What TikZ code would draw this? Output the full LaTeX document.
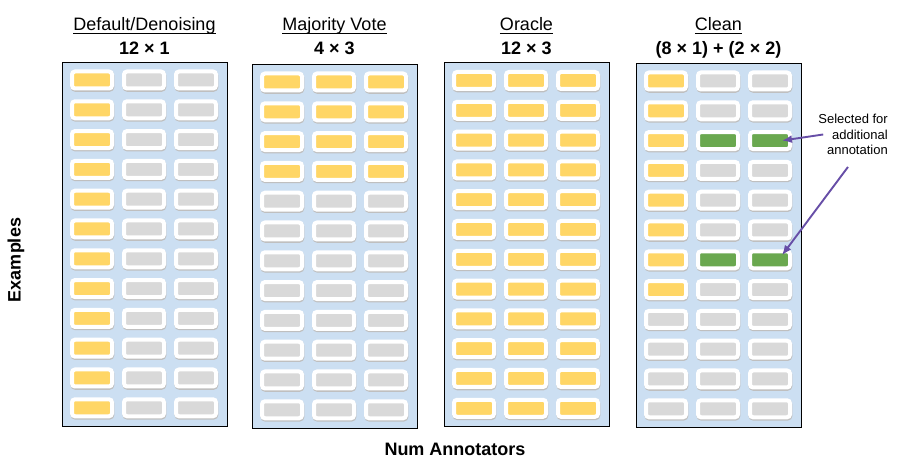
\documentclass[tikz,border=0pt]{standalone}
\usepackage{fontspec}
\setmainfont{Liberation Sans}
\usetikzlibrary{arrows.meta}
\definecolor{yel}{HTML}{FFD666}
\definecolor{gry}{HTML}{D9D9D9}
\definecolor{grn}{HTML}{6AA84F}
\definecolor{pane}{HTML}{CCDFF2}
\definecolor{pointer}{HTML}{674EA7}
\tikzset{
  slot/.style={fill=#1, draw=white, line width=4pt, rounded corners=3pt,
    minimum width=40pt, minimum height=17pt, inner sep=0pt,
    preaction={draw=black!25, fill=black!25, line width=4pt,
      transform canvas={xshift=0.4pt, yshift=-1.3pt}}},
  panel/.style={fill=pane, draw=black, line width=0.9pt, minimum width=165pt,
    minimum height=364pt, anchor=north west, inner sep=0pt},
  heading/.style={font=\fontsize{18}{20}\selectfont, inner sep=0pt, anchor=base},
  dims/.style={font=\bfseries\fontsize{18}{20}\selectfont, inner sep=0pt, anchor=base},
  axislabel/.style={font=\bfseries\fontsize{18}{20}\selectfont, inner sep=0pt},
  note/.style={font=\fontsize{13}{15.5}\selectfont, align=right, inner sep=0pt,
    anchor=north east},
  pointer/.style={draw=pointer, line width=1.9pt, -{Latex[length=10pt,width=8pt]}},
  uline/.style={line width=0.8pt}
}
\begin{document}
\begin{tikzpicture}[x=1pt, y=-1pt]
      \useasboundingbox (0,0) rectangle (898,465);
      % Default/Denoising
      \node[panel] (dd) at (62,62) {};
      \node[heading] (dd-t) at (144.5,31) {Default/Denoising};
      \node[dims] (dd-s) at (144.5,55) {12 × 1};
      \draw[uline] ([yshift=-2.5pt]dd-t.base west) -- ([yshift=-2.5pt]dd-t.base east);
      \foreach \rw in {1,...,12}
        \foreach \cl in {1,2,3}{
          \def\tone{gry}
          \ifnum\cl=1 \def\tone{yel}\fi
          \node[slot=\tone] (dd-\rw-\cl) at ({62+30+52*(\cl-1)},{80+29.8*(\rw-1)}) {};
        }
      % Majority Vote
      \node[panel] (mv) at (252,64) {};
      \node[heading] (mv-t) at (334.5,31) {Majority Vote};
      \node[dims] (mv-s) at (334.5,55) {4 × 3};
      \draw[uline] ([yshift=-2.5pt]mv-t.base west) -- ([yshift=-2.5pt]mv-t.base east);
      \foreach \rw in {1,...,12}
        \foreach \cl in {1,2,3}{
          \def\tone{gry}
          \ifnum\rw<5 \def\tone{yel}\fi
          \node[slot=\tone] (mv-\rw-\cl) at ({252+30+52*(\cl-1)},{82+29.8*(\rw-1)}) {};
        }
      % Oracle
      \node[panel] (or) at (444,62) {};
      \node[heading] (or-t) at (526.5,31) {Oracle};
      \node[dims] (or-s) at (526.5,55) {12 × 3};
      \draw[uline] ([yshift=-2.5pt]or-t.base west) -- ([yshift=-2.5pt]or-t.base east);
      \foreach \rw in {1,...,12}
        \foreach \cl in {1,2,3}{
          \node[slot=yel] (or-\rw-\cl) at ({444+30+52*(\cl-1)},{80.5+29.8*(\rw-1)}) {};
        }
      % Clean
      \node[panel] (cn) at (636,63) {};
      \node[heading] (cn-t) at (718.5,31) {Clean};
      \node[dims] (cn-s) at (718.5,55) {(8 × 1) + (2 × 2)};
      \draw[uline] ([yshift=-2.5pt]cn-t.base west) -- ([yshift=-2.5pt]cn-t.base east);
      \foreach \rw in {1,...,12}
        \foreach \cl in {1,2,3}{
          \def\tone{gry}
          \ifnum\cl=1 \ifnum\rw<9 \def\tone{yel}\fi\fi
          \ifnum\cl>1 \ifnum\rw=3 \def\tone{grn}\fi \ifnum\rw=7 \def\tone{grn}\fi\fi
          \node[slot=\tone] (cn-\rw-\cl) at ({636+30+52*(\cl-1)},{81+29.8*(\rw-1)}) {};
        }
      % axes and note
      \node[axislabel, anchor=base] (na) at (455,455) {Num Annotators};
      \node[axislabel, rotate=90] (ex) at (16,260) {Examples};
      \node[note] (sel) at (888,114) {Selected for\\additional\\annotation};
      \draw[pointer] ([xshift=5pt]sel.west) -- ([xshift=12pt]cn-3-3.center);
      \draw[pointer] ([xshift=-40pt,yshift=-12pt]sel.south east) -- ([xshift=12pt,yshift=4.5pt]cn-7-3.center);
    \end{tikzpicture}
\end{document}
